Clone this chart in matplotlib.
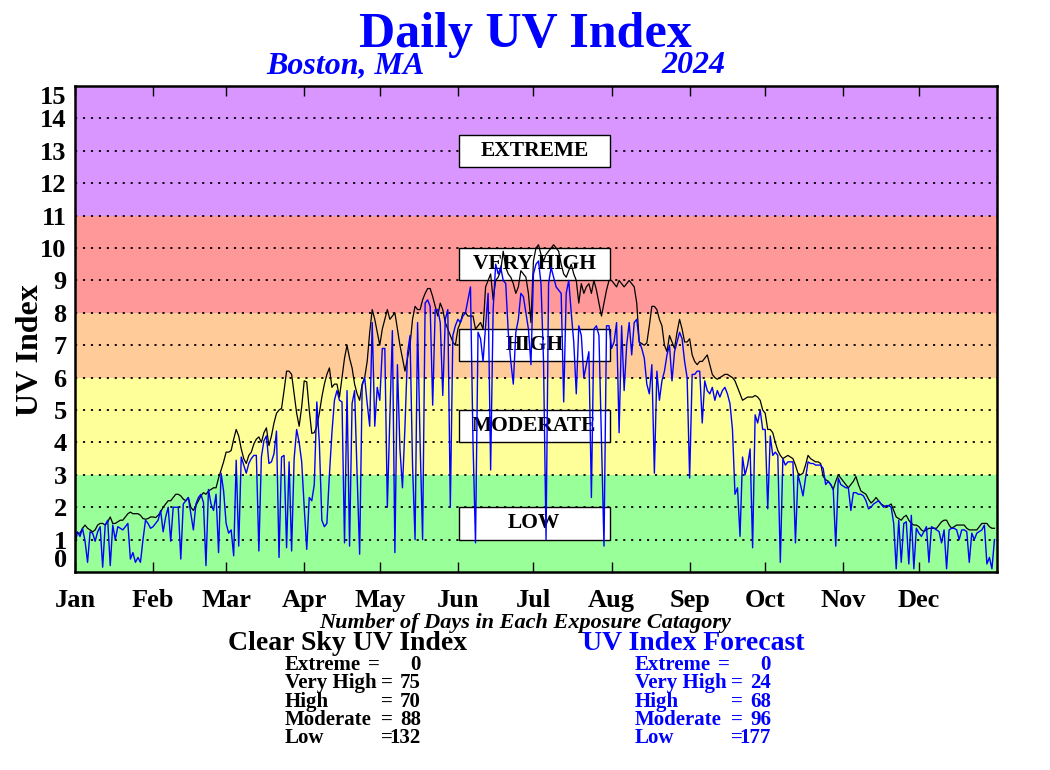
import matplotlib
matplotlib.use('Agg')
import matplotlib.pyplot as plt
from matplotlib.patches import Rectangle
import numpy as np

plt.rcParams['font.family'] = ['Liberation Serif', 'DejaVu Serif']
plt.rcParams['font.weight'] = 'bold'

# daily values, Jan 1 .. Dec 31 2024 (366 days)
clear_sky = [
    # Jan
    1.24, 1.2, 1.2, 1.35, 1.45, 1.35, 1.3, 1.24, 1.3, 1.45, 1.5, 1.5, 1.45, 1.55, 1.7, 1.5,
    1.5, 1.55, 1.6, 1.6, 1.7, 1.8, 1.85, 1.8, 1.8, 1.8, 1.75, 1.65, 1.63, 1.65, 1.7,
    # Feb
    1.7, 1.68, 1.75, 1.85, 2.0, 2.1, 2.2, 2.2, 2.3, 2.4, 2.4, 2.35, 2.25, 2.2, 2.3,
    2.0, 1.9, 2.05, 2.2, 2.35, 2.45, 2.4, 2.5, 2.55, 2.6, 2.6, 2.9, 3.15, 3.4,
    # Mar
    3.7, 3.7, 3.75, 4.1, 4.4, 4.2, 3.8, 3.5, 3.35, 3.6, 3.7, 3.95, 4.1, 4.17, 4.0, 4.3,
    4.45, 3.9, 4.2, 4.6, 4.9, 5.0, 5.05, 5.6, 6.2, 6.2, 6.1, 5.5, 4.9, 4.5, 5.1,
    # Apr
    5.9, 5.87, 5.0, 4.28, 4.3, 4.5, 4.9, 5.4, 5.8, 6.1, 6.3, 5.7, 5.8, 5.8, 5.4,
    6.0, 6.6, 7.0, 6.6, 6.3, 5.8, 5.5, 5.3, 5.8, 6.0, 6.5, 7.4, 8.1, 7.8, 7.4,
    # May
    7.0, 7.5, 7.8, 8.1, 7.8, 7.9, 8.0, 7.5, 7.0, 6.6, 6.2, 6.6, 7.0, 7.8, 8.2, 8.1,
    8.1, 8.4, 8.6, 8.75, 8.75, 8.5, 8.2, 7.9, 8.3, 8.1, 7.7, 7.5, 7.3, 7.1, 7.0,
    # Jun
    7.5, 7.7, 8.0, 8.0, 7.9, 7.9, 7.9, 7.5, 7.6, 7.7, 7.5, 8.8, 9.0, 9.2, 8.4,
    9.0, 9.1, 9.3, 9.9, 9.4, 9.2, 9.1, 8.9, 8.6, 8.8, 9.3, 9.2, 9.1, 8.6, 7.7,
    # Jul
    9.6, 10.0, 10.1, 9.8, 9.6, 9.8, 9.9, 10.0, 10.1, 10.0, 9.9, 9.5, 9.2, 9.1, 9.3, 9.5,
    9.2, 9.0, 8.3, 8.9, 8.6, 8.8, 8.9, 8.6, 9.0, 8.7, 8.3, 7.9, 8.3, 8.7, 9.0,
    # Aug
    9.0, 8.9, 8.8, 9.0, 8.9, 8.8, 8.9, 9.0, 8.9, 8.8, 8.3, 7.1, 7.05, 7.0, 7.07, 7.6,
    8.2, 8.2, 8.1, 7.8, 7.6, 7.0, 6.8, 7.3, 7.1, 6.9, 7.4, 7.8, 7.5, 7.1, 7.1,
    # Sep
    7.2, 6.7, 6.5, 6.4, 6.5, 6.5, 6.6, 6.7, 6.4, 6.1, 6.0, 5.95, 6.0, 6.05, 6.1,
    6.1, 6.05, 6.0, 5.9, 5.7, 5.5, 5.3, 5.35, 5.4, 5.4, 5.4, 5.45, 5.4, 5.3, 5.0,
    # Oct
    4.9, 4.4, 4.4, 4.3, 4.0, 3.75, 3.6, 3.5, 3.55, 3.6, 3.55, 3.5, 3.3, 3.05, 3.0, 3.05,
    3.3, 3.6, 3.5, 3.45, 3.4, 3.4, 3.35, 2.95, 2.85, 2.8, 2.7, 2.55, 2.8, 3.0, 2.9,
    # Nov
    2.8, 2.7, 2.6, 2.7, 2.8, 2.95, 2.7, 2.5, 2.45, 2.4, 2.25, 2.13, 2.2, 2.3, 2.2,
    2.1, 2.05, 2.0, 2.05, 2.1, 1.9, 1.7, 1.65, 1.6, 1.7, 1.75, 1.6, 1.5, 1.45, 1.45,
    # Dec
    1.4, 1.3, 1.25, 1.3, 1.35, 1.35, 1.35, 1.35, 1.45, 1.55, 1.6, 1.6, 1.45, 1.35, 1.4, 1.45,
    1.45, 1.45, 1.45, 1.35, 1.3, 1.3, 1.3, 1.3, 1.4, 1.5, 1.5, 1.5, 1.4, 1.35, 1.35,
]

forecast = [
    # Jan
    0.85, 1.24, 1.1, 1.35, 0.95, 0.3, 1.24, 1.2, 0.95, 1.24, 1.4, 0.15, 1.45, 1.6, 0.2, 1.45,
    1.0, 1.4, 1.35, 1.3, 1.4, 1.5, 0.4, 0.6, 0.3, 0.45, 0.3, 1.0, 1.6, 1.5, 1.35,
    # Feb
    1.4, 1.5, 1.6, 1.9, 1.24, 1.7, 2.0, 0.95, 2.0, 2.0, 2.0, 0.4, 2.1, 2.2, 2.3,
    1.8, 1.3, 2.1, 2.3, 2.4, 2.15, 0.2, 2.55, 2.1, 1.9, 2.4, 0.6, 3.05, 2.5,
    # Mar
    1.5, 1.2, 1.3, 0.5, 3.45, 0.8, 3.55, 3.3, 3.05, 3.35, 3.5, 3.6, 3.6, 0.65, 3.55, 4.05,
    4.2, 3.35, 3.4, 3.65, 4.35, 0.45, 3.55, 3.6, 0.75, 3.4, 0.65, 3.5, 4.4, 4.0, 3.4,
    # Apr
    2.0, 0.7, 2.3, 2.2, 2.7, 5.25, 4.0, 1.6, 1.4, 1.5, 3.0, 4.3, 5.3, 5.6, 5.3,
    5.25, 0.9, 5.6, 0.8, 5.2, 5.6, 3.0, 0.55, 5.75, 6.0, 5.2, 4.5, 7.7, 4.5, 5.7,
    # May
    5.3, 6.9, 6.9, 2.0, 4.8, 7.45, 0.6, 6.4, 3.8, 2.6, 4.5, 6.75, 7.3, 3.3, 1.0, 7.7,
    4.0, 1.0, 8.3, 8.4, 8.2, 5.15, 8.1, 8.1, 7.7, 5.45, 7.8, 8.1, 2.0, 7.3, 7.6,
    # Jun
    7.8, 7.7, 7.9, 8.0, 8.4, 8.8, 4.0, 0.9, 7.4, 7.2, 6.5, 7.6, 8.6, 3.15, 8.1,
    9.5, 9.2, 9.4, 9.0, 8.9, 7.4, 6.5, 5.8, 7.4, 7.8, 8.6, 8.5, 8.0, 7.5, 6.4,
    # Jul
    9.2, 9.5, 9.6, 8.9, 6.5, 1.0, 8.9, 9.4, 9.1, 8.8, 8.7, 8.6, 5.25, 8.6, 9.0, 8.0,
    7.1, 5.5, 7.6, 7.3, 6.0, 6.4, 6.8, 2.3, 7.5, 7.6, 7.3, 4.0, 0.8, 7.6, 7.6,
    # Aug
    6.9, 7.1, 7.7, 4.3, 7.6, 5.6, 7.0, 7.7, 6.7, 7.7, 7.8, 7.1, 6.9, 6.6, 5.8, 5.5,
    6.4, 3.05, 6.2, 5.3, 5.9, 6.2, 6.7, 7.0, 5.9, 6.8, 7.1, 7.4, 7.2, 6.5, 6.0,
    # Sep
    2.9, 6.1, 6.1, 6.2, 6.2, 4.6, 5.9, 5.6, 5.5, 5.7, 5.3, 5.6, 5.4, 5.6, 5.7,
    5.5, 5.2, 4.4, 2.4, 2.6, 1.1, 3.55, 3.0, 3.3, 3.8, 0.75, 4.85, 4.6, 5.0, 4.4,
    # Oct
    4.4, 1.95, 4.2, 3.6, 3.7, 3.6, 0.3, 3.5, 3.3, 3.4, 3.4, 3.4, 0.9, 3.0, 2.7, 2.35,
    2.9, 3.4, 3.35, 3.35, 3.3, 3.3, 3.3, 3.2, 2.7, 2.8, 2.7, 2.55, 0.8, 2.9, 2.7,
    # Nov
    2.65, 2.6, 2.6, 1.9, 2.45, 2.45, 2.4, 2.4, 2.35, 2.2, 1.95, 2.0, 2.1, 2.15, 2.2,
    2.1, 2.0, 2.05, 2.05, 2.0, 1.5, 0.1, 1.6, 0.3, 1.5, 1.55, 0.25, 1.75, 0.1, 1.35,
    # Dec
    1.2, 1.1, 1.25, 1.4, 0.3, 1.4, 1.35, 1.3, 1.25, 0.9, 1.3, 0.1, 1.3, 1.35, 1.35, 1.3,
    1.0, 1.3, 1.3, 1.25, 0.3, 1.2, 1.0, 1.2, 1.25, 1.3, 1.45, 0.25, 0.45, 0.1, 1.0,
]

months = ['Jan', 'Feb', 'Mar', 'Apr', 'May', 'Jun', 'Jul', 'Aug', 'Sep', 'Oct', 'Nov', 'Dec']
month_start = [0, 31, 60, 91, 121, 152, 182, 213, 244, 274, 305, 335]

band_edges = [0, 3, 6, 8, 11, 15]
band_colors = ['#99FF99', '#FFFF99', '#FFCC99', '#FF9999', '#D996FF']

categories = ['EXTREME', 'VERY HIGH', 'HIGH', 'MODERATE', 'LOW']
box_centers = [13, 9.5, 7, 4.5, 1.5]
clear_counts = [0, 75, 70, 88, 132]
forecast_counts = [0, 24, 68, 96, 177]

print(len(clear_sky), len(forecast))
days = np.arange(len(clear_sky))

fig = plt.figure(figsize=(10.5, 7.7), dpi=100)
ax = fig.add_axes([0.0714, 0.2571, 0.8781, 0.6312])

for i in range(len(band_colors)):
    ax.axhspan(band_edges[i], band_edges[i + 1], color=band_colors[i], zorder=0, lw=0)
for yv in range(1, 15):
    ax.axhline(yv, color='black', ls=(0, (1.2, 3.2)), lw=1.3, zorder=1)

# category boxes
bx0, bx1 = 0.4165, 0.580
for name, yc in zip(categories, box_centers):
    ax.add_patch(Rectangle((bx0, yc - 0.5), bx1 - bx0, 1.0, transform=ax.get_yaxis_transform(),
                           facecolor='white', edgecolor='black', lw=1.0, zorder=2))
    ax.text((bx0 + bx1) / 2, yc, name, transform=ax.get_yaxis_transform(), ha='center',
            va='center', fontsize=15.5, fontweight='bold', zorder=3)

ax.plot(days, clear_sky, color='black', lw=0.9, zorder=4)
ax.plot(days, forecast, color='#0000FF', lw=1.0, zorder=5)

ax.set_xlim(0, 366)
ax.set_ylim(0, 15)
ax.set_xticks(month_start)
ax.set_xticklabels(months, fontsize=19, fontweight='bold')
ax.tick_params(axis='x', direction='in', length=7, width=1, top=True, pad=12)
ax.set_yticks(range(16))
ax.set_yticklabels([str(v) for v in range(16)], fontsize=19, fontweight='bold')
ax.tick_params(axis='y', length=0, pad=6)
ylabs = ax.get_yticklabels()
ylabs[0].set_verticalalignment('bottom')
ylabs[-1].set_verticalalignment('top')
for sp in ax.spines.values():
    sp.set_linewidth(1.8)
    sp.set_zorder(6)

fig.text(0.0286, 0.545, 'UV Index', rotation=90, ha='center', va='center',
         fontsize=23, fontweight='bold')

blue = '#0000FF'
fig.text(0.5, 0.939, 'Daily UV Index', ha='center', va='baseline', fontsize=36,
         fontweight='bold', color=blue)
fig.text(0.3286, 0.905, 'Boston, MA', ha='center', va='baseline', fontsize=23,
         fontweight='bold', style='italic', color=blue)
fig.text(0.66, 0.905, '2024', ha='center', va='baseline', fontsize=23,
         fontweight='bold', style='italic', color=blue)

fig.text(0.5, 0.1844, 'Number of Days in Each Exposure Catagory', ha='center', va='baseline',
         fontsize=16, fontweight='bold', style='italic')
fig.text(0.3305, 0.1558, 'Clear Sky UV Index', ha='center', va='baseline', fontsize=20,
         fontweight='bold')
fig.text(0.66, 0.1558, 'UV Index Forecast', ha='center', va='baseline', fontsize=20,
         fontweight='bold', color=blue)

row_names = ['Extreme', 'Very High', 'High', 'Moderate', 'Low']
row_y = [0.1299, 0.1065, 0.0818, 0.0584, 0.0351]
for col_x, counts, col in [(0, clear_counts, 'black'), (350, forecast_counts, blue)]:
    for k in range(len(row_names)):
        fig.text((285 + col_x) / 1050, row_y[k], row_names[k], ha='left', va='baseline',
                 fontsize=15, fontweight='bold', color=col)
        eq_x = 368 if k == 0 else 381
        fig.text((eq_x + col_x) / 1050, row_y[k], '=', ha='left', va='baseline',
                 fontsize=15, fontweight='bold', color=col)
        fig.text((421 + col_x) / 1050, row_y[k], str(counts[k]), ha='right', va='baseline',
                 fontsize=15, fontweight='bold', color=col)

fig.savefig('out.png', dpi=100)
